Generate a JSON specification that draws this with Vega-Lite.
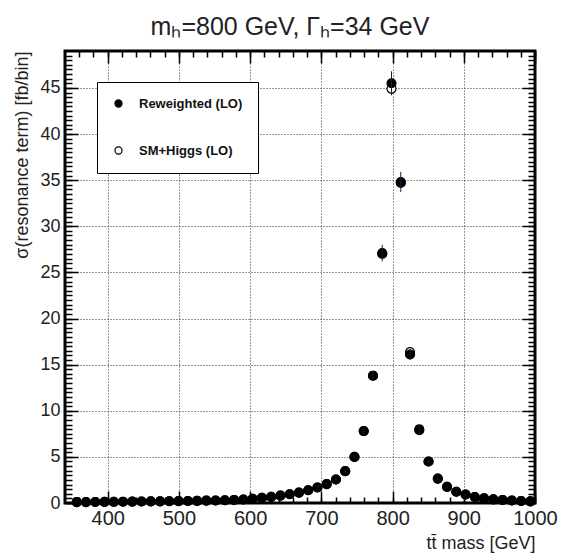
{
  "$schema": "https://vega.github.io/schema/vega-lite/v6.json",
  "width": 470,
  "height": 452,
  "autosize": {"type": "none"},
  "padding": {"left": 65, "top": 51, "right": 26, "bottom": 53},
  "background": "white",
  "config": {
    "font": "Liberation Sans",
    "view": {"stroke": "black", "strokeWidth": 3},
    "axis": {"domain": false, "labelColor": "#222", "titleColor": "#222", "titleFontWeight": "normal", "tickColor": "black", "tickWidth": 1.5, "gridColor": "#333", "gridDash": [1, 2], "gridWidth": 1}
  },
  "title": {"text": "mₕ=800 GeV, Γₕ=34 GeV", "fontSize": 25, "fontWeight": "normal", "color": "#222", "anchor": "middle", "dx": -10, "offset": 10},
  "data": {"values": [
    {"mass": 356.5, "sigma": 0.10, "err": 0.05, "sample": "SM+Higgs (LO)"},
    {"mass": 369.5, "sigma": 0.10, "err": 0.05, "sample": "SM+Higgs (LO)"},
    {"mass": 382.5, "sigma": 0.11, "err": 0.05, "sample": "SM+Higgs (LO)"},
    {"mass": 395.5, "sigma": 0.12, "err": 0.05, "sample": "SM+Higgs (LO)"},
    {"mass": 408.5, "sigma": 0.13, "err": 0.05, "sample": "SM+Higgs (LO)"},
    {"mass": 421.5, "sigma": 0.14, "err": 0.05, "sample": "SM+Higgs (LO)"},
    {"mass": 434.5, "sigma": 0.15, "err": 0.05, "sample": "SM+Higgs (LO)"},
    {"mass": 447.5, "sigma": 0.16, "err": 0.05, "sample": "SM+Higgs (LO)"},
    {"mass": 460.5, "sigma": 0.17, "err": 0.05, "sample": "SM+Higgs (LO)"},
    {"mass": 473.5, "sigma": 0.18, "err": 0.05, "sample": "SM+Higgs (LO)"},
    {"mass": 486.5, "sigma": 0.19, "err": 0.05, "sample": "SM+Higgs (LO)"},
    {"mass": 499.5, "sigma": 0.20, "err": 0.05, "sample": "SM+Higgs (LO)"},
    {"mass": 512.5, "sigma": 0.22, "err": 0.05, "sample": "SM+Higgs (LO)"},
    {"mass": 525.5, "sigma": 0.23, "err": 0.05, "sample": "SM+Higgs (LO)"},
    {"mass": 538.5, "sigma": 0.25, "err": 0.05, "sample": "SM+Higgs (LO)"},
    {"mass": 551.5, "sigma": 0.27, "err": 0.05, "sample": "SM+Higgs (LO)"},
    {"mass": 564.5, "sigma": 0.30, "err": 0.05, "sample": "SM+Higgs (LO)"},
    {"mass": 577.5, "sigma": 0.33, "err": 0.05, "sample": "SM+Higgs (LO)"},
    {"mass": 590.5, "sigma": 0.38, "err": 0.05, "sample": "SM+Higgs (LO)"},
    {"mass": 603.5, "sigma": 0.45, "err": 0.05, "sample": "SM+Higgs (LO)"},
    {"mass": 616.5, "sigma": 0.55, "err": 0.05, "sample": "SM+Higgs (LO)"},
    {"mass": 629.5, "sigma": 0.66, "err": 0.05, "sample": "SM+Higgs (LO)"},
    {"mass": 642.5, "sigma": 0.80, "err": 0.05, "sample": "SM+Higgs (LO)"},
    {"mass": 655.5, "sigma": 0.95, "err": 0.05, "sample": "SM+Higgs (LO)"},
    {"mass": 668.5, "sigma": 1.12, "err": 0.05, "sample": "SM+Higgs (LO)"},
    {"mass": 681.5, "sigma": 1.38, "err": 0.05, "sample": "SM+Higgs (LO)"},
    {"mass": 694.5, "sigma": 1.68, "err": 0.05, "sample": "SM+Higgs (LO)"},
    {"mass": 707.5, "sigma": 2.05, "err": 0.05, "sample": "SM+Higgs (LO)"},
    {"mass": 720.5, "sigma": 2.55, "err": 0.05, "sample": "SM+Higgs (LO)"},
    {"mass": 733.5, "sigma": 3.45, "err": 0.05, "sample": "SM+Higgs (LO)"},
    {"mass": 746.5, "sigma": 5.0, "err": 0.05, "sample": "SM+Higgs (LO)"},
    {"mass": 759.5, "sigma": 7.8, "err": 0.05, "sample": "SM+Higgs (LO)"},
    {"mass": 772.5, "sigma": 13.8, "err": 0.05, "sample": "SM+Higgs (LO)"},
    {"mass": 785.5, "sigma": 27.0, "err": 0.05, "sample": "SM+Higgs (LO)"},
    {"mass": 798.5, "sigma": 44.9, "err": 0.05, "sample": "SM+Higgs (LO)"},
    {"mass": 811.5, "sigma": 34.7, "err": 0.05, "sample": "SM+Higgs (LO)"},
    {"mass": 824.5, "sigma": 16.35, "err": 0.05, "sample": "SM+Higgs (LO)"},
    {"mass": 837.5, "sigma": 8.0, "err": 0.05, "sample": "SM+Higgs (LO)"},
    {"mass": 850.5, "sigma": 4.5, "err": 0.05, "sample": "SM+Higgs (LO)"},
    {"mass": 863.5, "sigma": 2.65, "err": 0.05, "sample": "SM+Higgs (LO)"},
    {"mass": 876.5, "sigma": 1.75, "err": 0.05, "sample": "SM+Higgs (LO)"},
    {"mass": 889.5, "sigma": 1.22, "err": 0.05, "sample": "SM+Higgs (LO)"},
    {"mass": 902.5, "sigma": 0.92, "err": 0.05, "sample": "SM+Higgs (LO)"},
    {"mass": 915.5, "sigma": 0.65, "err": 0.05, "sample": "SM+Higgs (LO)"},
    {"mass": 928.5, "sigma": 0.50, "err": 0.05, "sample": "SM+Higgs (LO)"},
    {"mass": 941.5, "sigma": 0.40, "err": 0.05, "sample": "SM+Higgs (LO)"},
    {"mass": 954.5, "sigma": 0.33, "err": 0.05, "sample": "SM+Higgs (LO)"},
    {"mass": 967.5, "sigma": 0.27, "err": 0.05, "sample": "SM+Higgs (LO)"},
    {"mass": 980.5, "sigma": 0.22, "err": 0.05, "sample": "SM+Higgs (LO)"},
    {"mass": 993.5, "sigma": 0.18, "err": 0.05, "sample": "SM+Higgs (LO)"},
    {"mass": 356.5, "sigma": 0.10, "err": 0.03, "sample": "Reweighted (LO)"},
    {"mass": 369.5, "sigma": 0.10, "err": 0.03, "sample": "Reweighted (LO)"},
    {"mass": 382.5, "sigma": 0.11, "err": 0.03, "sample": "Reweighted (LO)"},
    {"mass": 395.5, "sigma": 0.12, "err": 0.03, "sample": "Reweighted (LO)"},
    {"mass": 408.5, "sigma": 0.13, "err": 0.03, "sample": "Reweighted (LO)"},
    {"mass": 421.5, "sigma": 0.14, "err": 0.03, "sample": "Reweighted (LO)"},
    {"mass": 434.5, "sigma": 0.15, "err": 0.03, "sample": "Reweighted (LO)"},
    {"mass": 447.5, "sigma": 0.16, "err": 0.03, "sample": "Reweighted (LO)"},
    {"mass": 460.5, "sigma": 0.17, "err": 0.03, "sample": "Reweighted (LO)"},
    {"mass": 473.5, "sigma": 0.18, "err": 0.03, "sample": "Reweighted (LO)"},
    {"mass": 486.5, "sigma": 0.19, "err": 0.03, "sample": "Reweighted (LO)"},
    {"mass": 499.5, "sigma": 0.20, "err": 0.03, "sample": "Reweighted (LO)"},
    {"mass": 512.5, "sigma": 0.22, "err": 0.03, "sample": "Reweighted (LO)"},
    {"mass": 525.5, "sigma": 0.23, "err": 0.03, "sample": "Reweighted (LO)"},
    {"mass": 538.5, "sigma": 0.25, "err": 0.03, "sample": "Reweighted (LO)"},
    {"mass": 551.5, "sigma": 0.27, "err": 0.03, "sample": "Reweighted (LO)"},
    {"mass": 564.5, "sigma": 0.30, "err": 0.03, "sample": "Reweighted (LO)"},
    {"mass": 577.5, "sigma": 0.33, "err": 0.03, "sample": "Reweighted (LO)"},
    {"mass": 590.5, "sigma": 0.38, "err": 0.03, "sample": "Reweighted (LO)"},
    {"mass": 603.5, "sigma": 0.45, "err": 0.04, "sample": "Reweighted (LO)"},
    {"mass": 616.5, "sigma": 0.55, "err": 0.04, "sample": "Reweighted (LO)"},
    {"mass": 629.5, "sigma": 0.66, "err": 0.05, "sample": "Reweighted (LO)"},
    {"mass": 642.5, "sigma": 0.80, "err": 0.05, "sample": "Reweighted (LO)"},
    {"mass": 655.5, "sigma": 0.95, "err": 0.06, "sample": "Reweighted (LO)"},
    {"mass": 668.5, "sigma": 1.12, "err": 0.07, "sample": "Reweighted (LO)"},
    {"mass": 681.5, "sigma": 1.38, "err": 0.08, "sample": "Reweighted (LO)"},
    {"mass": 694.5, "sigma": 1.68, "err": 0.09, "sample": "Reweighted (LO)"},
    {"mass": 707.5, "sigma": 2.05, "err": 0.1, "sample": "Reweighted (LO)"},
    {"mass": 720.5, "sigma": 2.55, "err": 0.12, "sample": "Reweighted (LO)"},
    {"mass": 733.5, "sigma": 3.45, "err": 0.15, "sample": "Reweighted (LO)"},
    {"mass": 746.5, "sigma": 5.0, "err": 0.2, "sample": "Reweighted (LO)"},
    {"mass": 759.5, "sigma": 7.8, "err": 0.3, "sample": "Reweighted (LO)"},
    {"mass": 772.5, "sigma": 13.8, "err": 0.5, "sample": "Reweighted (LO)"},
    {"mass": 785.5, "sigma": 27.1, "err": 0.9, "sample": "Reweighted (LO)"},
    {"mass": 798.5, "sigma": 45.5, "err": 1.3, "sample": "Reweighted (LO)"},
    {"mass": 811.5, "sigma": 34.8, "err": 1.1, "sample": "Reweighted (LO)"},
    {"mass": 824.5, "sigma": 16.1, "err": 0.6, "sample": "Reweighted (LO)"},
    {"mass": 837.5, "sigma": 7.9, "err": 0.35, "sample": "Reweighted (LO)"},
    {"mass": 850.5, "sigma": 4.5, "err": 0.2, "sample": "Reweighted (LO)"},
    {"mass": 863.5, "sigma": 2.65, "err": 0.12, "sample": "Reweighted (LO)"},
    {"mass": 876.5, "sigma": 1.75, "err": 0.09, "sample": "Reweighted (LO)"},
    {"mass": 889.5, "sigma": 1.22, "err": 0.07, "sample": "Reweighted (LO)"},
    {"mass": 902.5, "sigma": 0.92, "err": 0.06, "sample": "Reweighted (LO)"},
    {"mass": 915.5, "sigma": 0.65, "err": 0.05, "sample": "Reweighted (LO)"},
    {"mass": 928.5, "sigma": 0.50, "err": 0.04, "sample": "Reweighted (LO)"},
    {"mass": 941.5, "sigma": 0.40, "err": 0.04, "sample": "Reweighted (LO)"},
    {"mass": 954.5, "sigma": 0.33, "err": 0.03, "sample": "Reweighted (LO)"},
    {"mass": 967.5, "sigma": 0.27, "err": 0.03, "sample": "Reweighted (LO)"},
    {"mass": 980.5, "sigma": 0.22, "err": 0.03, "sample": "Reweighted (LO)"},
    {"mass": 993.5, "sigma": 0.18, "err": 0.03, "sample": "Reweighted (LO)"}
  ]},
  "resolve": {"axis": {"x": "independent", "y": "independent"}},
  "layer": [
    {
      "mark": {"type": "point", "filled": true, "shape": "circle", "size": 80, "stroke": "black", "strokeWidth": 1.2, "opacity": 1},
      "encoding": {
        "x": {"field": "mass", "type": "quantitative", "scale": {"domain": [340, 1000], "nice": false, "zero": false},
          "axis": {"orient": "bottom", "title": "tt̄ mass [GeV]", "titleAnchor": "end", "titleFontSize": 18, "titlePadding": 6,
            "values": [360, 380, 400, 420, 440, 460, 480, 500, 520, 540, 560, 580, 600, 620, 640, 660, 680, 700, 720, 740, 760, 780, 800, 820, 840, 860, 880, 900, 920, 940, 960, 980, 1000],
            "labelExpr": "datum.value % 100 === 0 ? format(datum.value, 'd') : ''", "labelFontSize": 20, "labelPadding": 11, "labelFlush": false,
            "tickSize": -6,
            "gridOpacity": {"condition": {"test": "datum.value % 100 === 0 && datum.value < 1000", "value": 1}, "value": 0}}},
        "y": {"field": "sigma", "type": "quantitative", "scale": {"domain": [0, 49], "nice": false},
          "axis": {"orient": "left", "title": "σ(resonance term) [fb/bin]", "titleAnchor": "end", "titleFontSize": 18, "titlePadding": 8,
            "values": [0, 0.5, 1, 1.5, 2, 2.5, 3, 3.5, 4, 4.5, 5, 5.5, 6, 6.5, 7, 7.5, 8, 8.5, 9, 9.5, 10, 10.5, 11, 11.5, 12, 12.5, 13, 13.5, 14, 14.5, 15, 15.5, 16, 16.5, 17, 17.5, 18, 18.5, 19, 19.5, 20, 20.5, 21, 21.5, 22, 22.5, 23, 23.5, 24, 24.5, 25, 25.5, 26, 26.5, 27, 27.5, 28, 28.5, 29, 29.5, 30, 30.5, 31, 31.5, 32, 32.5, 33, 33.5, 34, 34.5, 35, 35.5, 36, 36.5, 37, 37.5, 38, 38.5, 39, 39.5, 40, 40.5, 41, 41.5, 42, 42.5, 43, 43.5, 44, 44.5, 45, 45.5, 46, 46.5, 47, 47.5, 48, 48.5],
            "labelExpr": "datum.value % 5 === 0 ? format(datum.value, 'd') : ''", "labelFontSize": 18, "labelPadding": 12,
            "tickSize": -7,
            "gridOpacity": {"condition": {"test": "datum.value % 5 === 0 && datum.value > 0", "value": 1}, "value": 0}}},
        "fill": {"field": "sample", "type": "nominal", "scale": {"domain": ["Reweighted (LO)", "SM+Higgs (LO)"], "range": ["black", "white"]},
          "legend": {"title": null, "orient": "none", "legendX": 32, "legendY": 31, "fillColor": "white", "strokeColor": "black",
            "padding": 15, "rowPadding": 33, "labelFontSize": 13, "labelFontWeight": "bold", "labelColor": "#111", "labelOffset": 14,
            "symbolSize": 50, "symbolType": "circle", "symbolStrokeColor": "black", "symbolStrokeWidth": 1.2, "labelLimit": 300}}
      }
    },
    {
      "transform": [{"filter": "datum.sample === 'Reweighted (LO)'"}],
      "mark": {"type": "errorbar", "ticks": false, "color": "#1c1c3c"},
      "encoding": {
        "x": {"field": "mass", "type": "quantitative",
          "axis": {"orient": "bottom", "title": null, "labels": false, "grid": false, "values": [400, 500, 600, 700, 800, 900, 1000], "tickSize": -12}},
        "y": {"field": "sigma", "type": "quantitative",
          "axis": {"orient": "left", "title": null, "labels": false, "grid": false, "values": [0, 5, 10, 15, 20, 25, 30, 35, 40, 45], "tickSize": -13}},
        "yError": {"field": "err"}
      }
    },
    {
      "mark": {"type": "point", "opacity": 0},
      "encoding": {
        "x": {"field": "mass", "type": "quantitative",
          "axis": {"orient": "top", "title": null, "labels": false, "grid": false,
            "values": [360, 380, 400, 420, 440, 460, 480, 500, 520, 540, 560, 580, 600, 620, 640, 660, 680, 700, 720, 740, 760, 780, 800, 820, 840, 860, 880, 900, 920, 940, 960, 980, 1000],
            "tickSize": -6}},
        "y": {"field": "sigma", "type": "quantitative",
          "axis": {"orient": "right", "title": null, "labels": false, "grid": false,
            "values": [0, 0.5, 1, 1.5, 2, 2.5, 3, 3.5, 4, 4.5, 5, 5.5, 6, 6.5, 7, 7.5, 8, 8.5, 9, 9.5, 10, 10.5, 11, 11.5, 12, 12.5, 13, 13.5, 14, 14.5, 15, 15.5, 16, 16.5, 17, 17.5, 18, 18.5, 19, 19.5, 20, 20.5, 21, 21.5, 22, 22.5, 23, 23.5, 24, 24.5, 25, 25.5, 26, 26.5, 27, 27.5, 28, 28.5, 29, 29.5, 30, 30.5, 31, 31.5, 32, 32.5, 33, 33.5, 34, 34.5, 35, 35.5, 36, 36.5, 37, 37.5, 38, 38.5, 39, 39.5, 40, 40.5, 41, 41.5, 42, 42.5, 43, 43.5, 44, 44.5, 45, 45.5, 46, 46.5, 47, 47.5, 48, 48.5],
            "tickSize": -7}}
      }
    },
    {
      "mark": {"type": "point", "opacity": 0},
      "encoding": {
        "x": {"field": "mass", "type": "quantitative",
          "axis": {"orient": "top", "title": null, "labels": false, "grid": false, "values": [400, 500, 600, 700, 800, 900, 1000], "tickSize": -12}},
        "y": {"field": "sigma", "type": "quantitative",
          "axis": {"orient": "right", "title": null, "labels": false, "grid": false, "values": [0, 5, 10, 15, 20, 25, 30, 35, 40, 45], "tickSize": -13}}
      }
    }
  ]
}
